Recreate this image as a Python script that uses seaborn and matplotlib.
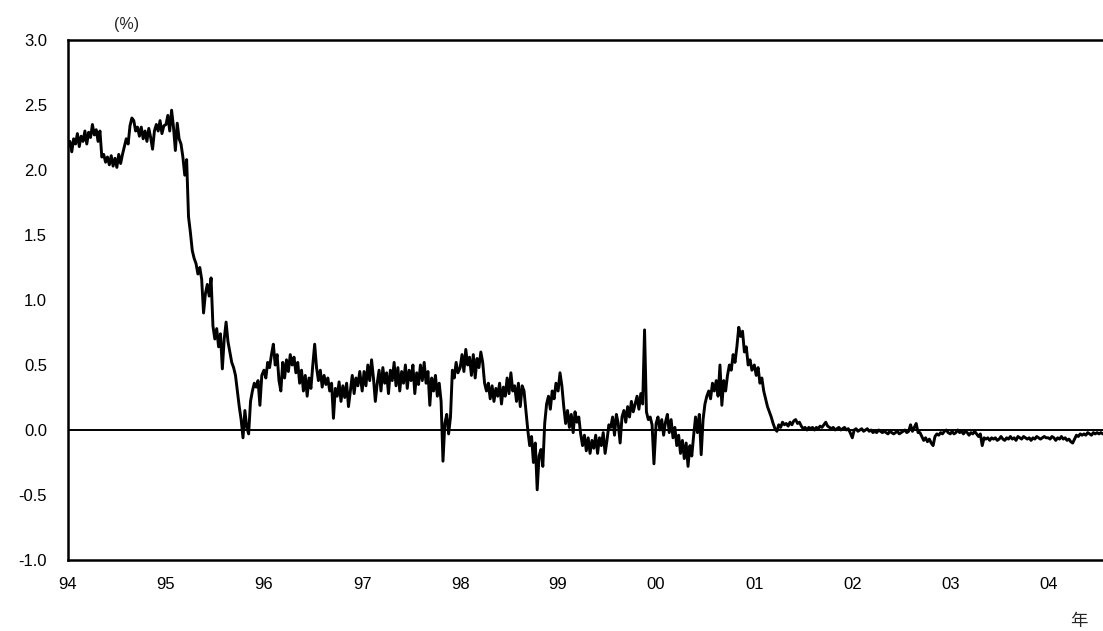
import matplotlib
matplotlib.use("Agg")
import matplotlib.pyplot as plt
import numpy as np
import pandas as pd
import seaborn as sns

# ---- data (weekly readings, per calendar year) ----
years = [1994, 1995, 1996, 1997, 1998, 1999, 2000, 2001, 2002, 2003, 2004]

v1994 = [2.18, 2.22, 2.14, 2.24, 2.20, 2.28, 2.18, 2.26, 2.22, 2.30, 2.20, 2.29, 2.25, 2.35, 2.27, 2.31, 2.22, 2.30,
         2.10, 2.12, 2.06, 2.10, 2.04, 2.11, 2.03, 2.09, 2.02, 2.12, 2.05, 2.12, 2.18, 2.24, 2.20, 2.34, 2.40, 2.38,
         2.30, 2.33, 2.26, 2.33, 2.24, 2.30, 2.22, 2.32, 2.25, 2.16, 2.30, 2.35, 2.30, 2.38, 2.28, 2.34]
v1995 = [2.35, 2.42, 2.30, 2.46, 2.33, 2.15, 2.36, 2.24, 2.20, 2.10, 1.96, 2.08, 1.64, 1.52, 1.38, 1.32, 1.28, 1.20,
         1.25, 1.16, 0.90, 1.05, 1.12, 1.03, 1.17, 0.80, 0.70, 0.78, 0.64, 0.74, 0.47, 0.70, 0.83, 0.68, 0.60, 0.52,
         0.48, 0.42, 0.30, 0.18, 0.08, -0.06, 0.15, 0.02, -0.03, 0.22, 0.30, 0.36, 0.33, 0.38, 0.19, 0.42]
v1996 = [0.46, 0.40, 0.52, 0.48, 0.58, 0.66, 0.50, 0.58, 0.38, 0.30, 0.52, 0.40, 0.54, 0.45, 0.58, 0.50, 0.56, 0.44,
         0.52, 0.36, 0.46, 0.30, 0.42, 0.26, 0.40, 0.32, 0.50, 0.66, 0.48, 0.38, 0.46, 0.33, 0.42, 0.35, 0.40, 0.30,
         0.36, 0.09, 0.32, 0.26, 0.37, 0.22, 0.34, 0.25, 0.36, 0.18, 0.30, 0.42, 0.28, 0.40, 0.34, 0.45]
v1997 = [0.30, 0.45, 0.34, 0.50, 0.38, 0.54, 0.40, 0.22, 0.36, 0.46, 0.30, 0.48, 0.36, 0.44, 0.28, 0.46, 0.38, 0.52,
         0.34, 0.48, 0.30, 0.45, 0.36, 0.50, 0.32, 0.46, 0.38, 0.50, 0.28, 0.44, 0.35, 0.50, 0.38, 0.52, 0.36, 0.45,
         0.19, 0.40, 0.30, 0.42, 0.26, 0.36, 0.22, -0.24, 0.05, 0.12, -0.03, 0.10, 0.46, 0.40, 0.52, 0.44]
v1998 = [0.48, 0.58, 0.45, 0.62, 0.50, 0.56, 0.42, 0.58, 0.40, 0.55, 0.48, 0.60, 0.52, 0.36, 0.30, 0.36, 0.24, 0.34,
         0.22, 0.32, 0.26, 0.36, 0.20, 0.33, 0.26, 0.40, 0.28, 0.44, 0.30, 0.34, 0.22, 0.36, 0.18, 0.34, 0.30, 0.15,
         0.00, -0.12, -0.05, -0.25, -0.10, -0.46, -0.20, -0.15, -0.28, 0.05, 0.20, 0.26, 0.16, 0.30, 0.24, 0.36]
v1999 = [0.30, 0.44, 0.34, 0.18, 0.05, 0.15, 0.02, 0.12, -0.02, 0.14, 0.06, 0.10, -0.03, -0.12, -0.04, -0.16, -0.06, -0.18,
         -0.08, -0.14, -0.04, -0.18, -0.06, -0.12, -0.02, -0.18, -0.08, 0.04, 0.02, 0.10, -0.04, 0.12, 0.05, -0.10, 0.10, 0.15,
         0.06, 0.18, 0.10, 0.22, 0.14, 0.20, 0.26, 0.16, 0.28, 0.20, 0.77, 0.14, 0.08, 0.10, 0.04, -0.26]
v2000 = [0.05, 0.10, 0.00, 0.08, -0.04, 0.06, 0.12, -0.02, 0.08, -0.06, 0.02, -0.12, -0.04, -0.18, -0.08, -0.22, -0.10, -0.28,
         -0.12, -0.20, -0.04, 0.10, -0.02, 0.12, -0.19, 0.08, 0.20, 0.26, 0.30, 0.24, 0.36, 0.30, 0.38, 0.26, 0.50, 0.19,
         0.38, 0.30, 0.42, 0.50, 0.46, 0.58, 0.52, 0.64, 0.79, 0.72, 0.76, 0.60, 0.64, 0.50, 0.54, 0.46]
v2001 = [0.50, 0.42, 0.48, 0.36, 0.40, 0.30, 0.24, 0.18, 0.14, 0.10, 0.05, 0.01, -0.01, 0.04, 0.02, 0.06, 0.04, 0.05,
         0.03, 0.06, 0.04, 0.07, 0.08, 0.05, 0.06, 0.03, 0.01, 0.02, 0.00, 0.02, 0.01, 0.02, 0.00, 0.02, 0.01, 0.03,
         0.02, 0.04, 0.06, 0.03, 0.02, 0.01, 0.02, 0.00, 0.01, 0.02, 0.00, 0.01, 0.02, 0.00, 0.01, -0.02]
v2002 = [-0.06, 0.00, 0.01, -0.01, 0.00, 0.01, -0.01, 0.00, 0.01, -0.01, 0.00, -0.02, -0.01, -0.02, 0.00, -0.01, -0.02, -0.01,
         -0.02, -0.03, -0.01, -0.02, -0.03, -0.02, -0.01, -0.03, -0.02, -0.01, 0.00, -0.02, -0.01, 0.04, -0.01, 0.02, 0.05, -0.02,
         -0.02, -0.05, -0.08, -0.06, -0.09, -0.07, -0.10, -0.12, -0.05, -0.03, -0.04, -0.02, -0.03, -0.01, 0.00, -0.02]
v2003 = [-0.03, -0.01, -0.03, -0.02, 0.00, -0.02, -0.01, -0.03, -0.01, -0.02, -0.04, -0.02, -0.03, -0.01, -0.03, -0.05, -0.03, -0.12,
         -0.06, -0.07, -0.06, -0.08, -0.06, -0.07, -0.06, -0.08, -0.07, -0.05, -0.07, -0.08, -0.06, -0.07, -0.05, -0.07, -0.06, -0.08,
         -0.05, -0.06, -0.07, -0.05, -0.06, -0.07, -0.06, -0.08, -0.06, -0.07, -0.05, -0.06, -0.07, -0.06, -0.05, -0.06]
v2004 = [-0.06, -0.07, -0.05, -0.06, -0.08, -0.06, -0.07, -0.05, -0.07, -0.06, -0.08, -0.07, -0.09, -0.10, -0.07, -0.04,
         -0.05, -0.03, -0.04, -0.03, -0.04, -0.02, -0.03, -0.04, -0.02, -0.03, -0.02, -0.03, -0.02, -0.03]

series = [v1994, v1995, v1996, v1997, v1998, v1999, v2000, v2001, v2002, v2003, v2004]

y_ticks = [-1.0, -0.5, 0.0, 0.5, 1.0, 1.5, 2.0, 2.5, 3.0]
x_tick_years = [1994, 1995, 1996, 1997, 1998, 1999, 2000, 2001, 2002, 2003, 2004]
x_tick_labels = ["94", "95", "96", "97", "98", "99", "00", "01", "02", "03", "04"]
unit_label = "(%)"
x_unit_label = "年"

# ---- build frame ----
frames = []
for yr, vals in zip(years, series):
    d = pd.date_range(f"{yr}-01-01", periods=len(vals), freq="7D")
    frames.append(pd.DataFrame({"date": d, "value": vals}))
df = pd.concat(frames, ignore_index=True)

# ---- style ----
sns.set_style("white")
plt.rcParams["font.family"] = ["Liberation Sans", "Noto Sans CJK JP", "DejaVu Sans"]
plt.rcParams["axes.unicode_minus"] = False

W, H = 1103, 631
fig = plt.figure(figsize=(W / 100, H / 100), dpi=100)
ax = fig.add_axes([68 / W, (H - 560) / H, (W - 68) / W, 520 / H])

sns.lineplot(data=df, x="date", y="value", color="black", linewidth=2.1, ax=ax)
ax.axhline(0, color="black", linewidth=1.4, zorder=1)

ax.set_xlim(pd.Timestamp("1994-01-01"), pd.Timestamp("2004-07-23"))
ax.set_ylim(-1.0, 3.0)
ax.set_yticks(y_ticks)
ax.set_yticklabels([f"{t:.1f}" for t in y_ticks])
ax.set_xticks([pd.Timestamp(f"{y}-01-01") for y in x_tick_years])
ax.set_xticklabels(x_tick_labels)
ax.set_xlabel("")
ax.set_ylabel("")

ax.tick_params(axis="y", direction="in", length=5, width=1.3, pad=15, labelsize=12, colors="black")
ax.tick_params(axis="x", length=0, pad=12, labelsize=12, colors="black")

for side in ["left", "top", "bottom"]:
    ax.spines[side].set_visible(True)
    ax.spines[side].set_color("black")
    ax.spines[side].set_linewidth(1.8)
ax.spines["right"].set_visible(False)

fig.text(127 / W, 1 - 25 / H, unit_label, ha="center", va="center", fontsize=11.5)
fig.text(1079 / W, 1 - 621 / H, x_unit_label, ha="center", va="center", fontsize=12.5,
         family=["Noto Sans CJK JP", "DejaVu Sans"])

fig.savefig("out.png", dpi=100)
